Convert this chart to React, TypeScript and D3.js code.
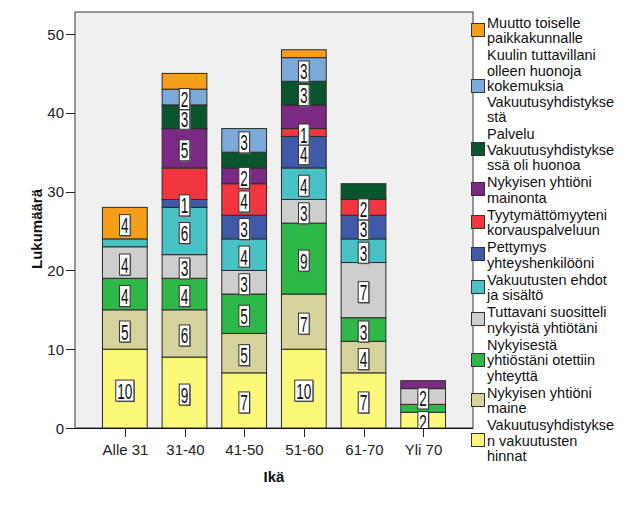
import React from "react";
import * as d3 from "d3";

const categories = ["Alle 31", "31-40", "41-50", "51-60", "61-70", "Yli 70"];

// series, bottom to top of each stack
const hinnat = [10, 9, 7, 10, 7, 2];
const maine = [5, 6, 5, 7, 4, 0];
const yhteytta = [4, 4, 5, 9, 3, 1];
const suositteli = [4, 3, 3, 3, 7, 2];
const ehdot = [1, 6, 4, 4, 3, 0];
const pettymys = [0, 1, 3, 4, 3, 0];
const korvaus = [0, 4, 4, 1, 2, 0];
const mainonta = [0, 5, 2, 3, 0, 1];
const palvelu = [0, 3, 2, 3, 2, 0];
const kuulin = [0, 2, 3, 3, 0, 0];
const muutto = [4, 2, 0, 1, 0, 0];

const seriesKeys = ["hinnat", "maine", "yhteytta", "suositteli", "ehdot", "pettymys", "korvaus", "mainonta", "palvelu", "kuulin", "muutto"];
const seriesValues = [hinnat, maine, yhteytta, suositteli, ehdot, pettymys, korvaus, mainonta, palvelu, kuulin, muutto];
const seriesColors = ["#fbf879", "#d6d29c", "#2eb848", "#cecece", "#48c2c5", "#3f58a8", "#f2353e", "#7a2a82", "#0a552d", "#7ba9d8", "#f89c1c"];

// legend text, top to bottom, as wrapped in the reference
const legendLines: Record<string, string[]> = {
  muutto: ["Muutto toiselle", "paikkakunnalle"],
  kuulin: ["Kuulin tuttavillani", "olleen huonoja", "kokemuksia", "Vakuutusyhdistykse", "stä"],
  palvelu: ["Palvelu", "Vakuutusyhdistykse", "ssä oli huonoa"],
  mainonta: ["Nykyisen yhtiöni", "mainonta"],
  korvaus: ["Tyytymättömyyteni", "korvauspalveluun"],
  pettymys: ["Pettymys", "yhteyshenkilööni"],
  ehdot: ["Vakuutusten ehdot", "ja sisältö"],
  suositteli: ["Tuttavani suositteli", "nykyistä yhtiötäni"],
  yhteytta: ["Nykyisestä", "yhtiöstäni otettiin", "yhteyttä"],
  maine: ["Nykyisen yhtiöni", "maine"],
  hinnat: ["Vakuutusyhdistykse", "n vakuutusten", "hinnat"],
};

// segments whose value labels are not shown in the reference
const hiddenLabels = ["Alle 31|ehdot", "31-40|korvaus", "31-40|muutto", "41-50|palvelu", "51-60|mainonta", "51-60|muutto", "61-70|palvelu", "Yli 70|yhteytta", "Yli 70|mainonta"];

const yTicks = [0, 10, 20, 30, 40, 50];
const yTitle = "Lukumäärä";
const xTitle = "Ikä";

const FONT = "'Liberation Sans', Arial, sans-serif";

export default function App() {
  const W = 631, H = 506;
  const frame = { x0: 75, x1: 473, y0: 12, y1: 428 };

  const x = d3.scaleBand<string>().domain(categories).range([95, 453]).paddingInner(0.25).paddingOuter(0.125);
  const y = d3.scaleLinear().domain([0, 50]).range([428, 34]);

  const table = categories.map((c, i) => {
    const row: any = { cat: c };
    seriesKeys.forEach((k, j) => (row[k] = seriesValues[j][i]));
    return row;
  });
  const stacked = d3.stack<any>().keys(seriesKeys)(table);

  const labelFont = 22;
  const labelScaleX = 0.62;
  const digitW = 0.556 * labelFont * labelScaleX;

  // legend layout
  const lineH = 15.5;
  const itemGap = 1.5;
  const legendOrder = [...seriesKeys].reverse();
  let base = 27.5;
  const legendItems = legendOrder.map((k) => {
    const lines = legendLines[k];
    const baselines = lines.map((_, i) => base + i * lineH);
    base = baselines[baselines.length - 1] + lineH + itemGap;
    const mean = d3.mean(baselines) as number;
    return { k, lines, baselines, swatchCy: mean - 6 };
  });

  return (
    <svg width={W} height={H} style={{ position: "absolute", left: 0, top: 0, background: "#fff" }} fontFamily={FONT}>
      <defs>
        <clipPath id="plotClip">
          <rect x={frame.x0} y={frame.y0} width={frame.x1 - frame.x0} height={frame.y1 - frame.y0} />
        </clipPath>
      </defs>
      <rect x={frame.x0} y={frame.y0} width={frame.x1 - frame.x0} height={frame.y1 - frame.y0} fill="#f0f0f0" stroke="#333" strokeWidth={1} />

      {/* y axis */}
      {yTicks.map((t) => (
        <g key={t}>
          <line x1={66} x2={frame.x0} y1={Math.round(y(t)) + 0.5} y2={Math.round(y(t)) + 0.5} stroke="#222" />
          <text x={64} y={y(t) + 5.5} fontSize={15} textAnchor="end" fill="#222">{t}</text>
        </g>
      ))}
      <text transform={`translate(42,229) rotate(-90)`} fontSize={15} fontWeight="bold" textAnchor="middle" fill="#111">{yTitle}</text>

      {/* bars */}
      {stacked.map((s, j) => (
        <g key={s.key}>
          {s.map((d, i) => {
            const v = d[1] - d[0];
            if (v <= 0) return null;
            const bx = x(categories[i]) as number;
            return (
              <rect key={i} x={bx} y={y(d[1])} width={x.bandwidth()} height={y(d[0]) - y(d[1])} fill={seriesColors[j]} stroke="#2a2a2a" strokeWidth={1} />
            );
          })}
        </g>
      ))}

      {/* value labels */}
      <g clipPath="url(#plotClip)">
        {stacked.map((s) => (
          <g key={"l" + s.key}>
            {s.map((d, i) => {
              const v = d[1] - d[0];
              if (v <= 0) return null;
              if (hiddenLabels.includes(categories[i] + "|" + s.key)) return null;
              const cx = (x(categories[i]) as number) + x.bandwidth() / 2;
              const cy = (y(d[0]) + y(d[1])) / 2 + 2;
              const txt = String(v);
              const bw = txt.length * digitW + 3;
              const bh = 21;
              return (
                <g key={i}>
                  <rect x={cx - bw / 2 + 1} y={cy - bh / 2 + 1} width={bw} height={bh} fill="#777" />
                  <rect x={cx - bw / 2} y={cy - bh / 2} width={bw} height={bh} fill="#fff" stroke="#333" strokeWidth={1} />
                  <text transform={`translate(${cx},${cy + 8}) scale(${labelScaleX},1)`} fontSize={labelFont} textAnchor="middle" fill="#111">{txt}</text>
                </g>
              );
            })}
          </g>
        ))}
      </g>

      {/* x axis */}
      <line x1={frame.x0} x2={frame.x1} y1={428.5} y2={428.5} stroke="#111" />
      {categories.map((c) => {
        const cx = Math.round((x(c) as number) + x.bandwidth() / 2) + 0.5;
        return (
          <g key={c}>
            <line x1={cx} x2={cx} y1={428} y2={437} stroke="#222" />
            <text x={cx} y={455} fontSize={15} textAnchor="middle" fill="#222">{c}</text>
          </g>
        );
      })}
      <text x={274} y={482} fontSize={15} fontWeight="bold" textAnchor="middle" fill="#111">{xTitle}</text>

      {/* legend */}
      {legendItems.map((it) => {
        const j = seriesKeys.indexOf(it.k);
        return (
          <g key={it.k}>
            <rect x={471.5} y={Math.round(it.swatchCy - 6.5) + 0.5} width={13} height={13} fill={seriesColors[j]} stroke="#333" strokeWidth={1} />
            {it.lines.map((ln, li) => (
              <text key={li} x={487} y={it.baselines[li]} fontSize={14.5} fill="#111">{ln}</text>
            ))}
          </g>
        );
      })}
    </svg>
  );
}
